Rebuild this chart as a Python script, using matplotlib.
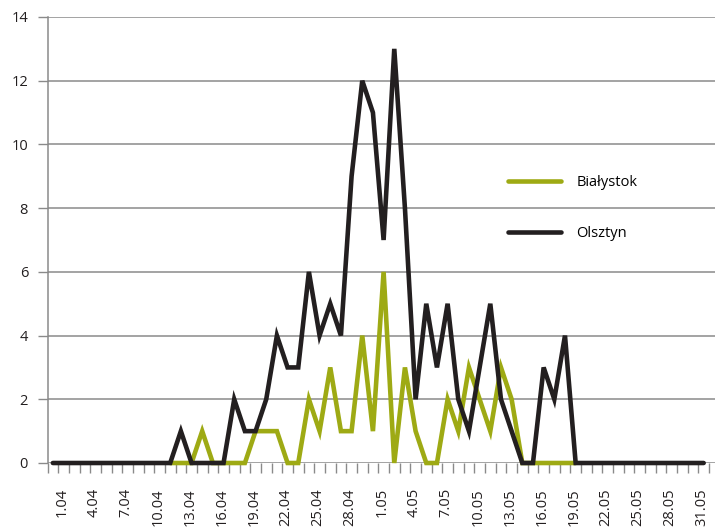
import numpy as np
import matplotlib
matplotlib.use("Agg")
import matplotlib.pyplot as plt
from matplotlib.ticker import MultipleLocator, FixedLocator
from matplotlib.transforms import ScaledTranslation

plt.rcParams["font.family"] = ["Open Sans", "DejaVu Sans"]

# dni od 1.04 do 1.06 (ostatni dzień bez etykiety)
days = [f"{d}.04" for d in range(1, 31)] + [f"{d}.05" for d in range(1, 32)] + ["1.06"]

# Białystok: widoczny od 12.04 do 19.05
bialystok = [np.nan] * 11 + [
    0, 0, 0, 1, 0, 0, 0, 0, 1, 1,
    1, 0, 0, 2, 1, 3, 1, 1, 4, 1,
    6, 0, 3, 1, 0, 0, 2, 1, 3, 2,
    1, 3, 2, 0, 0, 0, 0, 0, 0,
] + [np.nan] * 12

olsztyn = [
    0, 0, 0, 0, 0, 0, 0, 0, 0, 0,
    0, 0, 1, 0, 0, 0, 0, 2, 1, 1,
    2, 4, 3, 3, 6, 4, 5, 4, 9, 12,
    11, 7, 13, 8, 2, 5, 3, 5, 2, 1,
    3, 5, 2, 1, 0, 0, 3, 2, 4, 0,
    0, 0, 0, 0, 0, 0, 0, 0, 0, 0,
    0, 0,
]

green = "#9eaa14"
black = "#231f20"
grid = "#8a8a8a"

fig = plt.figure(figsize=(7.15, 5.31), dpi=100)
ax = fig.add_axes([47.5 / 715, 68 / 531, 1 - 47.5 / 715, 446 / 531])

x = np.arange(len(days))
ax.plot(x, bialystok, color=green, lw=3.3, solid_capstyle="round",
        solid_joinstyle="miter", label="Białystok", clip_on=False, zorder=3)
ax.plot(x, olsztyn, color=black, lw=3.3, solid_capstyle="round",
        solid_joinstyle="miter", label="Olsztyn", clip_on=False, zorder=4)

ax.set_ylim(0, 14)
ax.set_xlim(-0.5, 62.06)
ax.yaxis.set_major_locator(MultipleLocator(2))
ax.grid(axis="y", color=grid, lw=1.1)
ax.set_axisbelow(True)

for s in ["top", "right", "bottom"]:
    ax.spines[s].set_visible(False)
ax.spines["left"].set_color(grid)
ax.spines["left"].set_linewidth(1.1)

ax.set_xticks(x[:61:3])
ax.set_xticklabels(days[:61:3], rotation=90, fontsize=10.5, color="#231f20")
ax.xaxis.set_minor_locator(FixedLocator(np.arange(len(days) + 1) - 0.5))
ax.tick_params(axis="x", which="major", length=0, pad=18)
ax.tick_params(axis="x", which="minor", length=7, width=1, color=grid)
ax.tick_params(axis="y", length=7, width=1, color=grid, pad=7,
               labelsize=10.5, labelcolor="#231f20")

# etykiety osi X lekko przesunięte w prawo, jak w oryginale
shift = ScaledTranslation(9 / 100, 0, fig.dpi_scale_trans)
for lab in ax.get_xticklabels():
    lab.set_transform(lab.get_transform() + shift)

ax.legend(loc="upper left", bbox_to_anchor=(508 / 715, 1 - 175 / 531),
          bbox_transform=fig.transFigure, frameon=False, fontsize=10.5,
          handlelength=3.6, handletextpad=1.1, labelspacing=2.45,
          borderpad=0, borderaxespad=0)

fig.savefig("out.png", dpi=100)
